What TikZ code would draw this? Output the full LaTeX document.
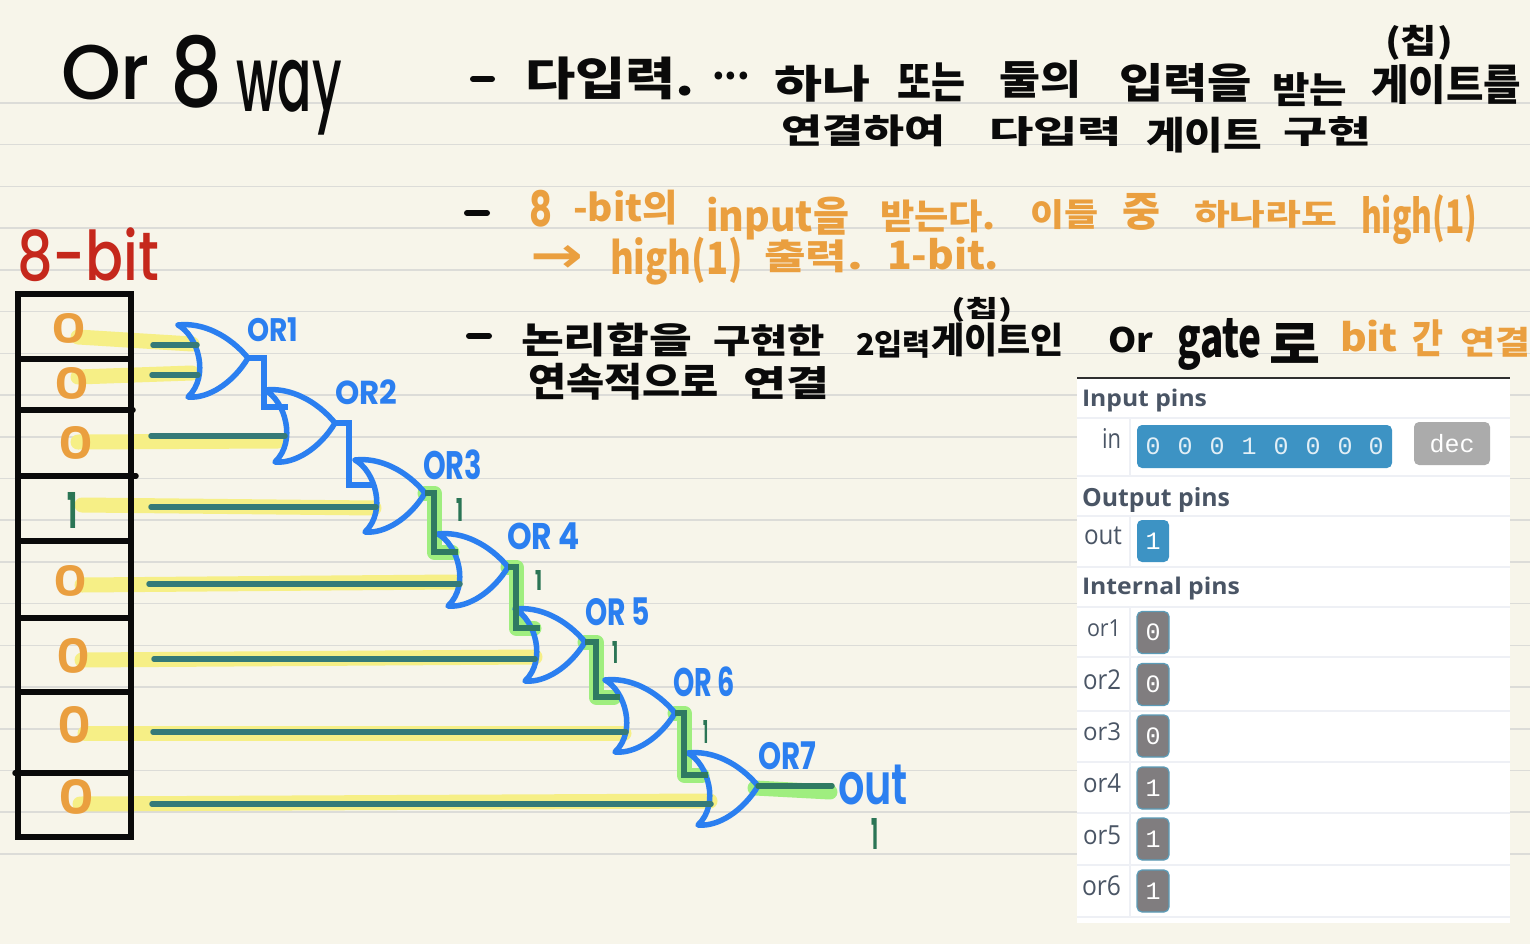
\documentclass[tikz,border=0pt]{standalone}
\usepackage{fontspec}
\usepackage{graphicx}
\setmainfont{Open Sans}
\newfontfamily\kr{Noto Sans CJK KR}
\newfontfamily\hand{Poppins}
\newfontfamily\handm{Poppins Medium}
\newfontfamily\hands{Poppins SemiBold}
\newfontfamily\mono{Liberation Mono}
\newfontfamily\ui{Open Sans}
\newfontfamily\arrowfont{DejaVu Sans}
\definecolor{paper}{HTML}{F7F5EA}
\definecolor{ruled}{HTML}{DCDCD8}
\definecolor{ink}{HTML}{0A0A0A}
\definecolor{orangeink}{HTML}{EA9F3F}
\definecolor{redink}{HTML}{C5281C}
\definecolor{blueink}{HTML}{2B7FF0}
\definecolor{wireteal}{HTML}{357A78}
\definecolor{greenink}{HTML}{2B7555}
\definecolor{wiregreen}{HTML}{2F7A62}
\definecolor{yellowmark}{HTML}{F6EF86}
\definecolor{greenmark}{HTML}{9FEE7F}
\definecolor{pinblue}{HTML}{3D93C4}
\definecolor{pingray}{HTML}{807D7F}
\definecolor{pinedge}{HTML}{5B9CB8}
\definecolor{decgray}{HTML}{ABABAB}
\definecolor{uitext}{HTML}{4A5565}
\definecolor{uisep}{HTML}{EEF0F5}
\newcommand\hw[7]{\node[inner sep=0pt,outer sep=0pt,anchor=north west,text=#6] (#1) at (#2,#3) {\resizebox*{\dimexpr#4pt-#2pt\relax}{\dimexpr#5pt-#3pt\relax}{#7}};}
\newcommand\orgate[3]{%
  \coordinate (#1) at (#2,#3);
  \draw[gateline] (#2-70,#3-33) .. controls (#2-50,#3-22) and (#2-38,#3+18) .. (#2-60,#3+39)
    .. controls (#2-40,#3+41) and (#2-15,#3+25) .. (#2,#3)
    .. controls (#2-18,#3-22) and (#2-45,#3-36) .. (#2-70,#3-33);}
\tikzset{
  ruleline/.style={draw=ruled,line width=1.5pt},
  tableline/.style={draw=ink,line width=5.5pt,line cap=round},
  dashmark/.style={draw=ink,line width=6pt,line cap=round},
  gateline/.style={draw=blueink,line width=5.5pt,line join=round,line cap=round},
  bluewire/.style={draw=blueink,line width=5.5pt,line join=miter},
  tealwire/.style={draw=wireteal,line width=5.5pt,line cap=round},
  greenwire/.style={draw=wiregreen,line width=5.5pt,line join=miter},
  yellowband/.style={draw=yellowmark,line width=15pt,line cap=round},
  greenband/.style={draw=greenmark,line width=15pt,line cap=round,line join=round},
  sep/.style={draw=uisep,line width=2pt},
  pinbox/.style={rounded corners=5pt,line width=1.2pt,inner sep=0pt,minimum width=32pt,minimum height=42pt,text=white},
  pinval/.style={font=\mono\fontsize{25}{25}\selectfont},
}
\begin{document}
\begin{tikzpicture}[x=1pt,y=-1pt]
\useasboundingbox (0,0) rectangle (1530,944);
\fill[paper] (0,0) rectangle (1530,944);
\foreach \k in {0,...,18} \draw[ruleline] (0,{103+41.72*\k}) -- (1530,{103+41.72*\k});

% coordinates for the wires
\coordinate (w1) at (153,345); \coordinate (i1) at (197,345);
\coordinate (w2) at (152,375); \coordinate (i2) at (198,375);
\coordinate (w3) at (151,436); \coordinate (i3) at (285,436);
\coordinate (w4) at (151,507); \coordinate (i4) at (376,507);
\coordinate (w5) at (149,584); \coordinate (i5) at (460,584);
\coordinate (w6) at (154,659); \coordinate (i6) at (535,659);
\coordinate (w7) at (153,732); \coordinate (i7) at (626,732);
\coordinate (w8) at (152,804); \coordinate (i8) at (711,804);

% highlights
\coordinate (y1) at (78,337); \coordinate (z1) at (192,344);
\coordinate (y2) at (78,377); \coordinate (z2) at (192,373);
\coordinate (y3) at (78,442); \coordinate (z3) at (278,441);
\coordinate (y4) at (82,505); \coordinate (z4) at (374,508);
\coordinate (y5) at (82,585); \coordinate (z5) at (455,582);
\coordinate (y6) at (82,660); \coordinate (z6) at (535,657);
\coordinate (y7) at (85,733); \coordinate (z7) at (624,733);
\coordinate (y8) at (80,804); \coordinate (z8) at (710,801);
\foreach \n in {1,...,8} \draw[yellowband] (y\n) -- (z\n);

% table
\draw[tableline] (18,294) rectangle (131,837);
\draw[tableline] (18,359) -- (131,359);
\draw[tableline] (21,410) -- (133,410);
\draw[tableline] (18,476) -- (136,476);
\draw[tableline] (18,541) -- (131,541);
\draw[tableline] (18,618) -- (131,618);
\draw[tableline] (18,692) -- (131,692);
\draw[tableline] (15,773) -- (131,773);

% title and bit labels
\hw{tor}{61}{45}{150}{100}{ink}{\handm Or}
\hw{teight}{170}{35}{222}{108}{ink}{\handm 8}
\hw{tway}{236}{60}{342}{135}{ink}{\handm way}
\hw{tbit}{17}{228}{159}{282}{redink}{\handm 8-bit}

% digits
\hw{d1}{51}{313}{86}{343}{orangeink}{\hands 0}
\hw{d2}{54}{367}{89}{399}{orangeink}{\hands 0}
\hw{d3}{58}{426}{93}{459}{orangeink}{\hands 0}
\hw{d4}{67}{492}{77}{528}{greenink}{\hand\bfseries 1}
\hw{d5}{53}{565}{87}{596}{orangeink}{\hands 0}
\hw{d6}{56}{638}{90}{673}{orangeink}{\hands 0}
\hw{d7}{57}{706}{91}{743}{orangeink}{\hands 0}
\hw{d8}{58}{779}{94}{814}{orangeink}{\hands 0}

% green highlighted stairs
\coordinate (m1) at (264,407); \coordinate (n1) at (288,407);
\coordinate (m2) at (349,485); \coordinate (n2) at (375,485);
\coordinate (m3) at (434,552); \coordinate (n3) at (458,552);
\coordinate (m4) at (516,628); \coordinate (n4) at (540,628);
\coordinate (m5) at (596,697); \coordinate (n5) at (620,697);
\coordinate (m6) at (684,775); \coordinate (n6) at (708,775);
\coordinate (outend) at (832,786);
\coordinate (outmark) at (830,792);
\coordinate (g3b) at (425,493); \coordinate (g4b) at (508,567);
\coordinate (g5b) at (585,642); \coordinate (g6b) at (675,713);
\coordinate (g7b) at (755,788);
\coordinate (q3) at (452,552); \coordinate (q4) at (534,628);
\coordinate (q5) at (614,697); \coordinate (q6) at (702,775);
\draw[greenband] (g3b) -| (m3) -- (q3);
\draw[greenband] (g4b) -| (m4) -- (q4);
\draw[greenband] (g5b) -| (m5) -- (q5);
\draw[greenband] (g6b) -| (m6) -- (q6);
\draw[greenband] (g7b) -- (outmark);

% gates
\orgate{g1}{248}{358}
\orgate{g2}{335}{423}
\orgate{g3}{425}{493}
\orgate{g4}{508}{567}
\orgate{g5}{585}{642}
\orgate{g6}{675}{713}
\orgate{g7}{758}{786}

% wires
\foreach \n in {1,...,8} \draw[tealwire] (w\n) -- (i\n);
\draw[bluewire] (g1) -| (m1) -- (n1);
\draw[bluewire] (g2) -| (m2) -- (n2);
\draw[greenwire] (g3) -| (m3) -- (n3);
\draw[greenwire] (g4) -| (m4) -- (n4);
\draw[greenwire] (g5) -| (m5) -- (n5);
\draw[greenwire] (g6) -| (m6) -- (n6);
\draw[greenwire,line cap=round] (g7) -- (outend);

% gate labels
\hw{lor1}{247}{318}{298}{342}{blueink}{\hand\bfseries OR1}
\hw{lor2}{335}{380}{397}{405}{blueink}{\hand\bfseries OR2}
\hw{lor3}{423}{450}{482}{480}{blueink}{\hand\bfseries OR3}
\hw{lor4}{507}{523}{580}{550}{blueink}{\hand\bfseries OR 4}
\hw{lor5}{585}{598}{650}{626}{blueink}{\hand\bfseries OR 5}
\hw{lor6}{673}{667}{735}{697}{blueink}{\hand\bfseries OR 6}
\hw{lor7}{758}{742}{816}{770}{blueink}{\hand\bfseries OR7}
\hw{lout}{838}{765}{908}{805}{blueink}{\hands out}
\hw{v3}{456}{498}{463}{521}{greenink}{\hand\bfseries 1}
\hw{v4}{535}{570}{542}{590}{greenink}{\hand\bfseries 1}
\hw{v5}{612}{641}{618}{663}{greenink}{\hand\bfseries 1}
\hw{v6}{703}{720}{708}{743}{greenink}{\hand\bfseries 1}
\hw{vout}{871}{818}{878}{849}{greenink}{\hand\bfseries 1}

% bullet dashes
\coordinate (da1) at (473,79); \coordinate (da2) at (492,79);
\coordinate (db1) at (467,213); \coordinate (db2) at (487,213);
\coordinate (dc1) at (469,336); \coordinate (dc2) at (489,336);
\draw[dashmark] (da1) -- (da2);
\draw[dashmark] (db1) -- (db2);
\draw[dashmark] (dc1) -- (dc2);

% notes, first block
\hw{a1}{525}{57}{695}{100}{ink}{\kr\bfseries 다입력.}
\hw{a2}{712}{72}{750}{80}{ink}{\kr\bfseries ...}
\hw{a3}{774}{65}{870}{102}{ink}{\kr\bfseries 하나}
\hw{a4}{897}{63}{965}{102}{ink}{\kr\bfseries 또는}
\hw{a5}{999}{60}{1081}{98}{ink}{\kr\bfseries 둘의}
\hw{a6}{1119}{63}{1252}{102}{ink}{\kr\bfseries 입력을}
\hw{a7}{1272}{73}{1347}{107}{ink}{\kr\bfseries 받는}
\hw{a8}{1371}{65}{1521}{105}{ink}{\kr\bfseries 게이트를}
\hw{a9}{1385}{25}{1453}{60}{ink}{\kr\bfseries (칩)}
\hw{a10}{781}{115}{945}{147}{ink}{\kr\bfseries 연결하여}
\hw{a11}{989}{117}{1122}{147}{ink}{\kr\bfseries 다입력}
\hw{a12}{1146}{117}{1262}{153}{ink}{\kr\bfseries 게이트}
\hw{a13}{1283}{117}{1371}{147}{ink}{\kr\bfseries 구현}

% second block
\hw{b1}{529}{190}{552}{227}{orangeink}{\hand\bfseries 8}
\hw{b2}{573}{190}{678}{225}{orangeink}{\kr\bfseries -bit의}
\hw{b3}{706}{197}{849}{240}{orangeink}{\kr\bfseries input을}
\hw{b4}{880}{200}{996}{233}{orangeink}{\kr\bfseries 받는다.}
\hw{b5}{1030}{200}{1098}{230}{orangeink}{\kr\bfseries 이들}
\hw{b6}{1122}{193}{1160}{230}{orangeink}{\kr\bfseries 중}
\hw{b7}{1194}{200}{1337}{228}{orangeink}{\kr\bfseries 하나라도}
\hw{b8}{1361}{195}{1477}{245}{orangeink}{\kr\bfseries high(1)}
\hw{b9}{530}{245}{583}{272}{orangeink}{\arrowfont\bfseries →}
\hw{b10}{610}{237}{743}{285}{orangeink}{\kr\bfseries high(1)}
\hw{b11}{764}{240}{863}{273}{orangeink}{\kr\bfseries 출력.}
\hw{b12}{887}{237}{999}{270}{orangeink}{\kr\bfseries 1-bit.}

% third block
\hw{c1}{521}{323}{692}{357}{ink}{\kr\bfseries 논리합을}
\hw{c2}{713}{325}{825}{357}{ink}{\kr\bfseries 구현한}
\hw{c3}{856}{330}{931}{358}{ink}{\kr\bfseries 2입력}
\hw{c4}{931}{323}{1064}{357}{ink}{\kr\bfseries 게이트인}
\hw{c5}{951}{297}{1013}{322}{ink}{\kr\bfseries (칩)}
\hw{c6}{1108}{327}{1153}{353}{ink}{\kr\bfseries Or}
\hw{c7}{1177}{318}{1262}{370}{ink}{\kr\bfseries gate}
\hw{c8}{1269}{323}{1320}{363}{ink}{\kr\bfseries 로}
\hw{c9}{1340}{320}{1398}{352}{orangeink}{\kr\bfseries bit}
\hw{c10}{1412}{320}{1443}{357}{orangeink}{\kr\bfseries 간}
\hw{c11}{1460}{327}{1530}{357}{orangeink}{\kr\bfseries 연결}
\hw{c12}{528}{363}{719}{400}{ink}{\kr\bfseries 연속적으로}
\hw{c13}{743}{367}{829}{400}{ink}{\kr\bfseries 연결}

% simulator panel
\fill[white] (1077,379) rectangle (1510,923);
\draw[draw=ink!85,line width=1.5pt] (1077,378) -- (1510,378);
\foreach \y in {418,476,516,567,607,657,711,762,813,865,917} \draw[sep] (1077,\y) -- (1510,\y);
\draw[sep] (1130,418) -- (1130,476);
\draw[sep] (1130,516) -- (1130,567);
\draw[sep] (1130,607) -- (1130,917);

\hw{hin}{1082}{389}{1207}{412}{uitext}{\ui\bfseries Input pins}
\hw{hout}{1082}{487}{1230}{512}{uitext}{\ui\bfseries Output pins}
\hw{hint}{1082}{577}{1240}{600}{uitext}{\ui\bfseries Internal pins}

\hw{lin}{1102}{428}{1121}{448}{uitext}{\ui in}
\node[pinbox,fill=pinblue,minimum width=255pt,minimum height=43pt] (inbox) at (1264.5,446.5) {};
\foreach \n/\x/\v in {1/1153/0,2/1185/0,3/1217/0,4/1249/1,5/1281/0,6/1313/0,7/1345/0,8/1376/0}
  \node[pinval,text=white!85!pinblue,inner sep=0pt] (bit\n) at (\x,446) {\v};
\node[pinbox,fill=decgray,minimum width=76pt,minimum height=43pt,pinval] (dec) at (1452,443.5) {dec};

\hw{lpout}{1084}{527}{1122}{545}{uitext}{\ui out}
\node[pinbox,fill=pinblue,pinval] (vpout) at (1153,541) {1};

\hw{lp1}{1087}{620}{1121}{637}{uitext}{\ui or1}
\hw{lp2}{1083}{670}{1121}{690}{uitext}{\ui or2}
\hw{lp3}{1083}{723}{1121}{741}{uitext}{\ui or3}
\hw{lp4}{1083}{774}{1121}{793}{uitext}{\ui or4}
\hw{lp5}{1083}{826}{1121}{845}{uitext}{\ui or5}
\hw{lp6}{1082}{876}{1121}{896}{uitext}{\ui or6}
\foreach \n/\y/\v in {1/632.5/0,2/684.5/0,3/736/0,4/788/1,5/839/1,6/891/1}
  \node[pinbox,fill=pingray,draw=pinedge,pinval] (vp\n) at (1153,\y) {\v};
\end{tikzpicture}
\end{document}
